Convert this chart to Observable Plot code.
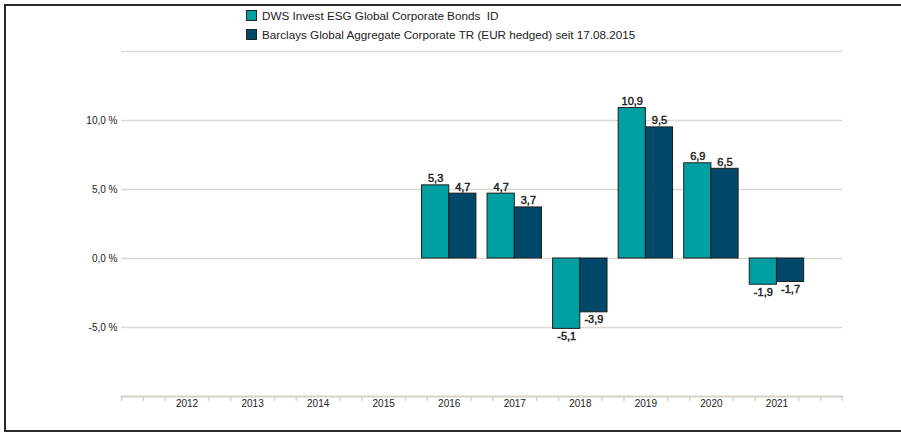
<!DOCTYPE html>
<html>
<head>
<meta charset="utf-8">
<script src="https://cdn.jsdelivr.net/npm/d3@7"></script>
<script src="https://cdn.jsdelivr.net/npm/@observablehq/plot@0.6"></script>
<style>
  html, body { margin: 0; padding: 0; background: #fff; }
  body { width: 901px; height: 433px; overflow: hidden; position: relative; font-family: "Liberation Sans", Arial, sans-serif; }
  #frame { position: absolute; left: 4px; top: 4px; width: 920px; height: 424px; border: 2px solid #2b2b2b; pointer-events: none; z-index: 5; }
  #legend { position: relative; height: 44px; }
  .row { position: absolute; left: 246px; display: flex; align-items: center; height: 19px; font-size: 11.7px; color: #222; white-space: pre; }
  .sw { width: 9px; height: 9px; border: 1px solid #222; margin-right: 5px; }
  #chart svg { display: block; }
</style>
</head>
<body>
<div id="frame"></div>
<div id="legend"></div>
<div id="chart"></div>
<script>
// ---- data ----
const seriesNames = ["DWS Invest ESG Global Corporate Bonds  ID", "Barclays Global Aggregate Corporate TR (EUR hedged) seit 17.08.2015"];
const seriesColors = ["#00a0a2", "#00486a"];
const years = [2012, 2013, 2014, 2015, 2016, 2017, 2018, 2019, 2020, 2021];
const barYears = [2016, 2017, 2018, 2019, 2020, 2021];
const dwsValues = [5.3, 4.7, -5.1, 10.9, 6.9, -1.9];
const barclaysValues = [4.7, 3.7, -3.9, 9.5, 6.5, -1.7];
const yTickValues = [-5, 0, 5, 10];
const gridValues = [-5, 0, 5, 10, 15];

// ---- legend ----
const legend = document.getElementById("legend");
seriesNames.forEach((name, i) => {
  const row = document.createElement("div");
  row.className = "row";
  row.style.top = (6 + i * 19) + "px";
  const sw = document.createElement("span");
  sw.className = "sw";
  sw.style.background = seriesColors[i];
  const t = document.createElement("span");
  t.textContent = name;
  row.appendChild(sw); row.appendChild(t);
  legend.appendChild(row);
});

// ---- table ----
const rows = [];
barYears.forEach((yr, i) => {
  rows.push({year: yr, s: 0, value: dwsValues[i]});
  rows.push({year: yr, s: 1, value: barclaysValues[i]});
});
const halfBar = 0.415; // bar width as a fraction of a year step
const x1 = d => d.s === 0 ? d.year - halfBar : d.year;
const x2 = d => d.s === 0 ? d.year : d.year + halfBar;
const xc = d => (x1(d) + x2(d)) / 2;
const fmt = v => v.toFixed(1).replace(".", ",");

const minorTicks = [];
for (let y = 2011; y <= 2021; y++) {
  if (y === 2011) minorTicks.push(y);
  minorTicks.push(y + 1/3, y + 2/3);
}
minorTicks.push(2022);

const gridColor = "#dcd9d2";
const labelStyle = {fontSize: 11, fontWeight: "normal", fill: "#222", stroke: "#222", strokeWidth: 0.45, letterSpacing: "0.6px"};

const chart = Plot.plot({
  width: 901,
  height: 389,
  marginTop: 7,
  marginBottom: 37,
  marginLeft: 121,
  marginRight: 59,
  style: {fontFamily: "'Liberation Sans', Arial, sans-serif", fontSize: "10px", color: "#222", background: "transparent"},
  x: {type: "linear", domain: [2011, 2022], label: null},
  y: {domain: [-10, 15], label: null},
  color: {domain: [0, 1], range: seriesColors},
  marks: [
    Plot.ruleY(gridValues, {stroke: gridColor, strokeWidth: 1.5}),
    Plot.ruleY([-10], {stroke: "#d6d2ca", strokeWidth: 2}),
    Plot.axisX(minorTicks, {tickSize: 5, tickFormat: () => "", stroke: "#d6d2ca", strokeWidth: 1.5, label: null}),
    Plot.axisX(years, {tickSize: 0, tickPadding: 3, tickFormat: d => String(d), fontSize: 10, fill: "#222", label: null}),
    Plot.axisY(yTickValues, {tickSize: 0, tickPadding: 4, tickFormat: d => fmt(d) + " %", fontSize: 10, fill: "#222", label: null}),
    Plot.rectY(rows, {x1, x2, y1: 0, y2: "value", fill: d => d.s, stroke: "#1e1e1e", strokeWidth: 1}),
    Plot.text(rows.filter(d => d.value >= 0), {x: xc, y: "value", text: d => fmt(d.value), lineAnchor: "bottom", dy: -3, ...labelStyle}),
    Plot.text(rows.filter(d => d.value < 0), {x: xc, y: "value", text: d => fmt(d.value), lineAnchor: "top", dy: 3, ...labelStyle})
  ]
});
document.getElementById("chart").appendChild(chart);
</script>
</body>
</html>
